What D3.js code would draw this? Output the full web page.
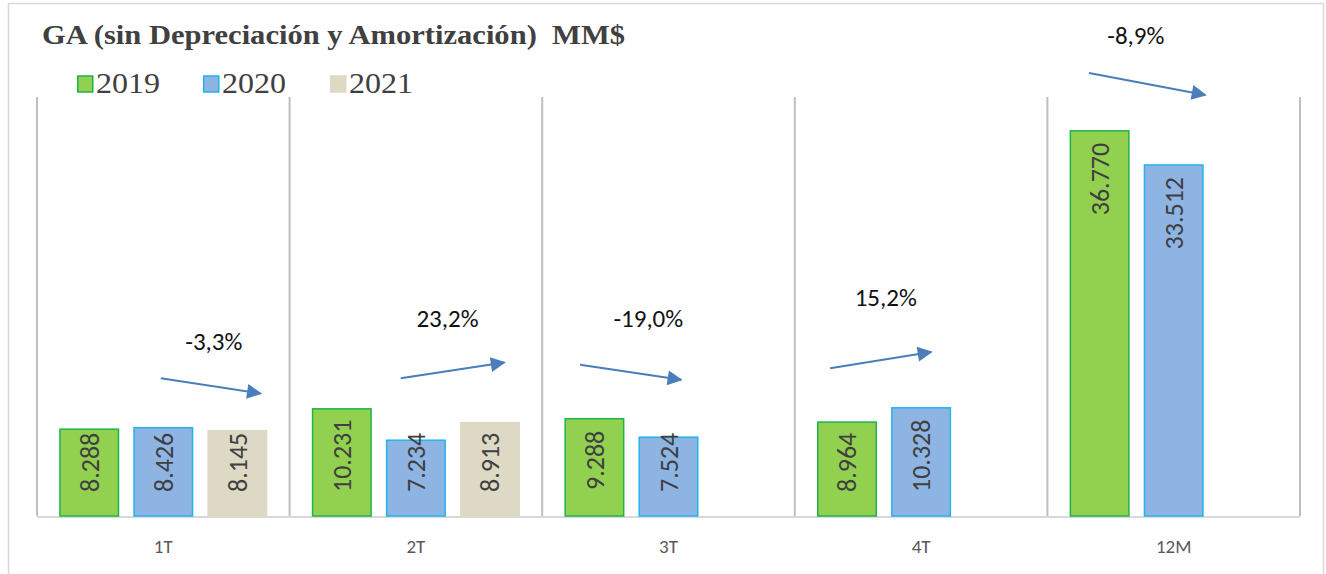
<!DOCTYPE html>
<html>
<head>
<meta charset="utf-8">
<script src="https://cdn.jsdelivr.net/npm/d3@7"></script>
<style>
  html, body { margin: 0; padding: 0; background: #fff; }
  svg { display: block; }
</style>
</head>
<body>
<svg id="chart" width="1326" height="574"></svg>
<script>
// ---------------- DATA ----------------
const categories = ["1T", "2T", "3T", "4T", "12M"];
const seriesNames = ["2019", "2020", "2021"];
const values2019 = [8288, 10231, 9288, 8964, 36770];
const values2020 = [8426, 7234, 7524, 10328, 33512];
const values2021 = [8145, 8913, null, null, null];
const changeLabels = ["-3,3%", "23,2%", "-19,0%", "15,2%", "-8,9%"];
const titleText = "GA (sin Depreciación y Amortización)  MM$";

// ---------------- LAYOUT / STYLE ----------------
const W = 1326, H = 574;
const plot = { left: 37, right: 1300, top: 97, bottom: 516 };
const yMax = 40000;
const fills = ["#92D050", "#8EB4E3", "#DDD9C4"];
const strokes = ["#1DB44A", "#1FB4F0", "#DDD9C4"];
// annotation arrows, in band fraction (x) and value units (y)
const arrowLayout = [
  { x0: 0.49,  x1: 0.885, y0: 13150, y1: 11700, lx: 0.70,  ly: 16700 },
  { x0: 0.44,  x1: 0.85,  y0: 13150, y1: 14650, lx: 0.625, ly: 18900 },
  { x0: 0.15,  x1: 0.55,  y0: 14450, y1: 13000, lx: 0.42,  ly: 18900 },
  { x0: 0.14,  x1: 0.54,  y0: 14100, y1: 15650, lx: 0.36,  ly: 20900 },
  { x0: 0.165, x1: 0.625, y0: 42300, y1: 40200, lx: 0.35,  ly: 45900 }
];

const series = [values2019, values2020, values2021];
const loc = d3.formatLocale({ decimal: ",", thousands: ".", grouping: [3], currency: ["", "$"] });
const fmt = loc.format(",.0f");

const svg = d3.select("#chart");

// outer frame
svg.append("rect")
  .attr("x", 8.5).attr("y", 3.5).attr("width", 1315).attr("height", 600)
  .attr("fill", "none").attr("stroke", "#D9D9D9").attr("stroke-width", 1.5);

const x0 = d3.scaleBand().domain(categories).range([plot.left, plot.right]).padding(0);
const x1 = d3.scaleBand().domain(seriesNames).range([0, x0.bandwidth()])
  .paddingInner(0.21).paddingOuter(0.31);
const y = d3.scaleLinear().domain([0, yMax]).range([plot.bottom, plot.top]);

// vertical separators
const bounds = categories.map(c => x0(c)).concat([plot.right]);
svg.append("g").selectAll("line").data(bounds).join("line")
  .attr("x1", d => d).attr("x2", d => d)
  .attr("y1", plot.top).attr("y2", plot.bottom)
  .attr("stroke", "#BFBFBF").attr("stroke-width", 2);

// baseline
svg.append("line")
  .attr("x1", plot.left).attr("x2", plot.right)
  .attr("y1", plot.bottom + 1).attr("y2", plot.bottom + 1)
  .attr("stroke", "#D9D9D9").attr("stroke-width", 2);

// bars
const barData = [];
categories.forEach((c, ci) => {
  seriesNames.forEach((s, si) => {
    const v = series[si][ci];
    if (v != null) barData.push({ c, s, si, v });
  });
});

const gBars = svg.append("g");
gBars.selectAll("rect").data(barData).join("rect")
  .attr("x", d => x0(d.c) + x1(d.s))
  .attr("y", d => y(d.v))
  .attr("width", x1.bandwidth())
  .attr("height", d => y(0) - y(d.v))
  .attr("fill", d => fills[d.si])
  .attr("stroke", d => strokes[d.si])
  .attr("stroke-width", 1.5);

// bar value labels (rotated)
const labelFont = "Calibri, Carlito, Lato, 'Open Sans', sans-serif";
const gLab = svg.append("g");
gLab.selectAll("text").data(barData).join("text")
  .text(d => fmt(d.v))
  .attr("font-family", labelFont)
  .attr("font-size", 26)
  .attr("font-weight", 300)
  .attr("fill", "#404040")
  .attr("text-anchor", "start")
  .attr("dy", "0.36em")
  .each(function(d) {
    const len = this.getComputedTextLength();
    const cx = x0(d.c) + x1(d.s) + x1.bandwidth() / 2;
    const by = Math.min(y(d.v) + 12 + len, plot.bottom - 24);
    d3.select(this).attr("transform", `translate(${cx},${by}) rotate(-90)`);
  });

// category labels
svg.append("g").selectAll("text").data(categories).join("text")
  .text(d => d)
  .attr("x", d => x0(d) + x0.bandwidth() / 2)
  .attr("y", 553)
  .attr("text-anchor", "middle")
  .attr("font-family", labelFont)
  .attr("font-size", 19)
  .attr("fill", "#595959");

// arrows
const defs = svg.append("defs");
defs.append("marker")
  .attr("id", "arrowhead")
  .attr("viewBox", "0 0 10 10")
  .attr("refX", 9).attr("refY", 5)
  .attr("markerWidth", 8.5).attr("markerHeight", 7.5)
  .attr("markerUnits", "strokeWidth")
  .attr("orient", "auto")
  .append("path").attr("d", "M0,0 L10,5 L0,10 z").attr("fill", "#4A7EBB");

const bw = x0.bandwidth();
svg.append("g").selectAll("line").data(arrowLayout).join("line")
  .attr("x1", (d, i) => x0(categories[i]) + d.x0 * bw)
  .attr("x2", (d, i) => x0(categories[i]) + d.x1 * bw)
  .attr("y1", d => y(d.y0))
  .attr("y2", d => y(d.y1))
  .attr("stroke", "#4A7EBB")
  .attr("stroke-width", 2)
  .attr("marker-end", "url(#arrowhead)");

svg.append("g").selectAll("text").data(arrowLayout).join("text")
  .text((d, i) => changeLabels[i])
  .attr("x", (d, i) => x0(categories[i]) + d.lx * bw)
  .attr("y", d => y(d.ly))
  .attr("dy", "0.36em")
  .attr("text-anchor", "middle")
  .attr("font-family", labelFont)
  .attr("font-size", 25)
  .attr("fill", "#111111");

// title
svg.append("text")
  .text(titleText)
  .attr("x", 42).attr("y", 44)
  .attr("xml:space", "preserve")
  .style("white-space", "pre")
  .attr("font-family", "'Liberation Serif', 'Times New Roman', serif")
  .attr("font-weight", "bold")
  .attr("font-size", 27)
  .attr("textLength", 583)
  .attr("lengthAdjust", "spacingAndGlyphs")
  .attr("fill", "#404040");

// legend
const legendX = [77, 203, 330];
const lg = svg.append("g").selectAll("g").data(seriesNames).join("g")
  .attr("transform", (d, i) => `translate(${legendX[i]},0)`);
lg.append("rect")
  .attr("x", 0.75).attr("y", 76).attr("width", 15).attr("height", 16)
  .attr("fill", (d, i) => fills[i])
  .attr("stroke", (d, i) => strokes[i])
  .attr("stroke-width", 1.5);
lg.append("text")
  .text(d => d)
  .attr("x", 19).attr("y", 93)
  .attr("font-family", "'Liberation Serif', 'Times New Roman', serif")
  .attr("font-size", 29)
  .attr("textLength", 64)
  .attr("lengthAdjust", "spacingAndGlyphs")
  .attr("fill", "#404040");
</script>
</body>
</html>
